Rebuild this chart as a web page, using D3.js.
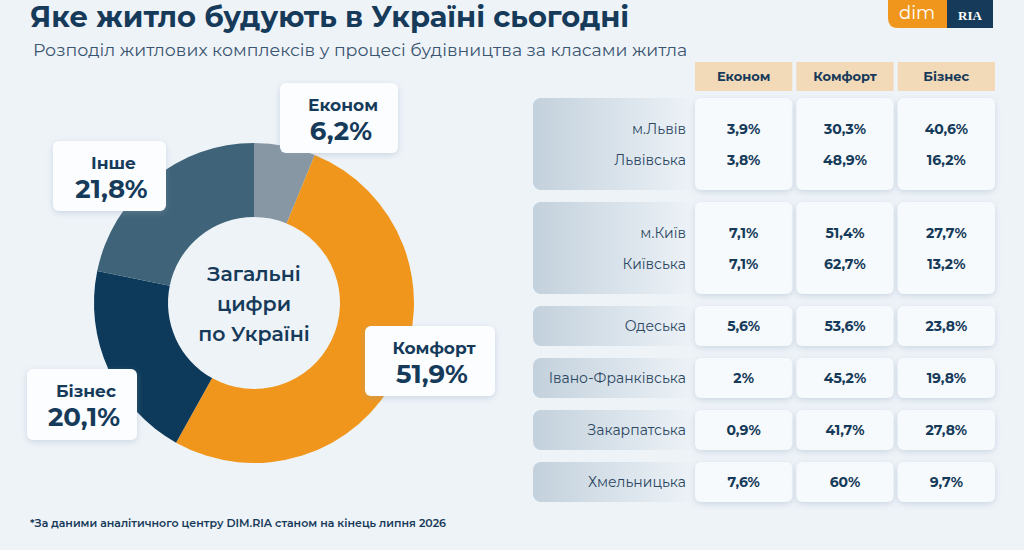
<!DOCTYPE html>
<html>
<head>
<meta charset="utf-8">
<script src="https://cdn.jsdelivr.net/npm/d3@7"></script>
<style>
  body { margin: 0; background: #eef3f8; }
  svg { font-family: "Montserrat", "Noto Sans", sans-serif; }
</style>
</head>
<body>
<svg id="chart" width="1024" height="550"></svg>
<script>
// overall shares for Ukraine
var classes = ["Економ", "Комфорт", "Бізнес", "Інше"];
var shares = [6.2, 51.9, 20.1, 21.8];
var shareLabels = ["6,2%", "51,9%", "20,1%", "21,8%"];

// table by region
var regions = ["м.Львів", "Львівська", "м.Київ", "Київська", "Одеська", "Івано-Франківська", "Закарпатська", "Хмельницька"];
var groups = [2, 2, 1, 1, 1, 1]; // how many regions share one block
var econom = ["3,9%", "3,8%", "7,1%", "7,1%", "5,6%", "2%", "0,9%", "7,6%"];
var komfort = ["30,3%", "48,9%", "51,4%", "62,7%", "53,6%", "45,2%", "41,7%", "60%"];
var biznes = ["40,6%", "16,2%", "27,7%", "13,2%", "23,8%", "19,8%", "27,8%", "9,7%"];
var columns = ["Економ", "Комфорт", "Бізнес"];

var navy = "#163a59";
var svg = d3.select("#chart");

var defs = svg.append("defs");
var sh = defs.append("filter").attr("id", "shadow").attr("x", "-20%").attr("y", "-20%").attr("width", "140%").attr("height", "150%");
sh.append("feDropShadow").attr("dx", 0).attr("dy", 2).attr("stdDeviation", 3).attr("flood-color", "#8aa0b5").attr("flood-opacity", 0.35);
var grad = defs.append("linearGradient").attr("id", "band");
grad.append("stop").attr("offset", "0%").attr("stop-color", "#c3d1dc");
grad.append("stop").attr("offset", "100%").attr("stop-color", "#eef3f8");

// title
svg.append("text").attr("x", 30).attr("y", 27).attr("font-size", 29).attr("font-weight", 700)
    .attr("fill", navy).text("Яке житло будують в Україні сьогодні");
svg.append("text").attr("x", 33).attr("y", 56).attr("font-size", 17.4)
    .attr("fill", "#3a5570").text("Розподіл житлових комплексів у процесі будівництва за класами житла");

// logo
svg.append("path").attr("d", "M888,0 H947 V28 H898 Q888,28 888,18 Z").attr("fill", "#f0961c");
svg.append("rect").attr("x", 947).attr("y", 0).attr("width", 46).attr("height", 28).attr("fill", "#163a59");
svg.append("text").attr("x", 917).attr("y", 19).attr("text-anchor", "middle").attr("font-size", 18)
    .attr("fill", "#fff").text("dim");
svg.append("text").attr("x", 970).attr("y", 20).attr("text-anchor", "middle").attr("font-size", 13)
    .attr("font-family", "Liberation Serif").attr("font-weight", 700).attr("fill", "#fff").text("RIA");

// donut
var colors = d3.scaleOrdinal().domain(classes).range(["#8797a3", "#f0961c", "#0d3a5a", "#3f6378"]);
var pie = d3.pie().sort(null).value(d => d);
var arc = d3.arc().innerRadius(86).outerRadius(160);
var donut = svg.append("g").attr("transform", "translate(254,303)");
donut.selectAll("path").data(pie(shares)).enter().append("path")
    .attr("d", arc).attr("fill", (d, i) => colors(classes[i]));

donut.append("text").attr("text-anchor", "middle").attr("font-size", 20.5).attr("font-weight", 600)
    .attr("fill", navy).selectAll("tspan").data(["Загальні", "цифри", "по Україні"]).enter()
    .append("tspan").attr("x", 0).attr("y", (d, i) => -22 + i * 30).text(d => d);

// label boxes for each slice
var boxes = [
    { x: 280, y: 83, w: 118, h: 70 },
    { x: 365, y: 326, w: 130, h: 70 },
    { x: 27, y: 369, w: 110, h: 71 },
    { x: 53, y: 141, w: 113, h: 70 }
];
boxes.forEach(function(b, i) {
    var g = svg.append("g").attr("transform", `translate(${b.x},${b.y})`);
    g.append("rect").attr("width", b.w).attr("height", b.h).attr("rx", 6)
        .attr("fill", "#fbfdff").attr("filter", "url(#shadow)");
    g.append("text").attr("x", b.w / 2 + 4).attr("y", 28).attr("text-anchor", "middle")
        .attr("font-size", 17).attr("font-weight", 700).attr("fill", navy).text(classes[i]);
    g.append("text").attr("x", b.w / 2 + 2).attr("y", 57).attr("text-anchor", "middle")
        .attr("font-size", 26).attr("font-weight", 700).attr("fill", navy).text(shareLabels[i]);
});

// table
var colX = d3.scaleBand().domain(columns).range([695, 995]).paddingInner(0.04);
columns.forEach(function(c) {
    svg.append("rect").attr("x", colX(c)).attr("y", 62).attr("width", colX.bandwidth()).attr("height", 29)
        .attr("fill", "#f2d9b8");
    svg.append("text").attr("x", colX(c) + colX.bandwidth() / 2).attr("y", 81).attr("text-anchor", "middle")
        .attr("font-size", 13).attr("font-weight", 700).attr("fill", navy).text(c);
});

var rowH = 40, gap = 12, y = 98, r = 0;
groups.forEach(function(n) {
    var h = n === 2 ? 92 : rowH;
    svg.append("rect").attr("x", 533).attr("y", y).attr("width", 165).attr("height", h)
        .attr("rx", 8).attr("fill", "url(#band)");
    columns.forEach(function(c) {
        svg.append("rect").attr("x", colX(c)).attr("y", y).attr("width", colX.bandwidth()).attr("height", h)
            .attr("rx", 6).attr("fill", "#f7fafd").attr("filter", "url(#shadow)");
    });
    for (var k = 0; k < n; k++) {
        var ty = n === 2 ? y + 36 + k * 31 : y + 25;
        svg.append("text").attr("x", 686).attr("y", ty).attr("text-anchor", "end")
            .attr("font-size", 14).attr("fill", "#2c4762").text(regions[r]);
        [econom, komfort, biznes].forEach(function(arr, j) {
            svg.append("text").attr("x", colX(columns[j]) + colX.bandwidth() / 2).attr("y", ty)
                .attr("text-anchor", "middle").attr("font-size", 14).attr("font-weight", 700)
                .attr("fill", navy).text(arr[r]);
        });
        r++;
    }
    y += h + gap;
});

// footnote
svg.append("text").attr("x", 30).attr("y", 527).attr("font-size", 11).attr("font-weight", 600)
    .attr("fill", navy).text("*За даними аналітичного центру DIM.RIA станом на кінець липня 2026");
</script>
</body>
</html>
